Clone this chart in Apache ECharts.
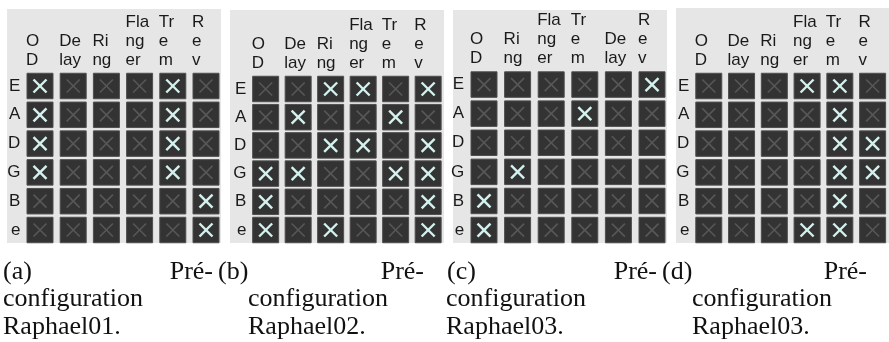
<!DOCTYPE html>
<html><head><meta charset="utf-8">
<script src="https://cdn.jsdelivr.net/npm/echarts@6/dist/echarts.min.js"></script>
<style>html,body{margin:0;padding:0;background:#fff}#c{width:889px;height:342px}</style>
</head><body><div id="c"></div>
<script>
const rowLabels = ['E', 'A', 'D', 'G', 'B', 'e'];
const headersStd = ['O\nD', 'De\nlay', 'Ri\nng', 'Fla\nng\ner', 'Tr\ne\nm', 'R\ne\nv'];
const headersAlt = ['O\nD', 'Ri\nng', 'Fla\nng\ner', 'Tr\ne\nm', 'De\nlay', 'R\ne\nv'];

// 1 = effect enabled (light X), 0 = disabled (grey X); rows E,A,D,G,B,e
const raphael01 = [
  [1,0,0,0,1,0],
  [1,0,0,0,1,0],
  [1,0,0,0,1,0],
  [1,0,0,0,1,0],
  [0,0,0,0,0,1],
  [0,0,0,0,0,1]
];
const raphael02 = [
  [0,0,1,1,0,1],
  [0,1,0,0,1,0],
  [0,0,1,1,0,1],
  [1,1,0,0,1,1],
  [1,0,0,0,0,1],
  [1,0,1,0,0,1]
];
const raphael03c = [
  [0,0,0,0,0,1],
  [0,0,0,1,0,0],
  [0,0,0,0,0,0],
  [0,1,0,0,0,0],
  [1,0,0,0,0,0],
  [1,0,0,0,0,0]
];
const raphael03d = [
  [0,0,0,1,1,0],
  [0,0,0,0,1,0],
  [0,0,0,0,1,1],
  [0,0,0,0,1,1],
  [0,0,0,0,1,0],
  [0,0,0,1,1,0]
];
const captionLabels = ['(a)', '(b)', '(c)', '(d)'];
const captionWord = 'Pré-';
const captionLine2 = 'configuration';
const captionNames = ['Raphael01.', 'Raphael02.', 'Raphael03.', 'Raphael03.'];

const headersList = [headersStd, headersStd, headersAlt, headersStd];
const matrices = [raphael01, raphael02, raphael03c, raphael03d];

// layout
const layout = [
  {bg: [7, 9, 214, 234],   grid: {left: 23.4,  top: 71.6, width: 199.2, height: 172.8}, cap: {lx: 3,   rx: 213, tx: 3}},
  {bg: [230, 10, 214, 233], grid: {left: 249.4, top: 74.9, width: 195,   height: 169.2}, cap: {lx: 218, rx: 424, tx: 248}},
  {bg: [453, 10, 214, 233], grid: {left: 467.2, top: 70,   width: 201.6, height: 174.6}, cap: {lx: 447, rx: 657, tx: 446}},
  {bg: [676, 8, 215, 235],  grid: {left: 692.4, top: 71.6, width: 199.2, height: 172.8}, cap: {lx: 662, rx: 867, tx: 692}}
];

const sans = '"Liberation Sans", Arial, sans-serif';
const serif = '"Liberation Serif", "Times New Roman", serif';

const grids = [], xAxes = [], yAxes = [], series = [], graphics = [];
layout.forEach((L, i) => {
  grids.push(Object.assign({containLabel: false}, L.grid));
  xAxes.push({
    type: 'category', gridIndex: i, position: 'top', data: headersList[i],
    axisLine: {show: false}, axisTick: {show: false}, splitLine: {show: false},
    axisLabel: {
      interval: 0, margin: 2, align: 'center', verticalAlign: 'bottom', width: 28,
      formatter: v => v.split('\n').map(s => '{l|' + s + '}').join('\n'),
      rich: {l: {align: 'left', fontSize: 17, lineHeight: 19, fontFamily: sans, color: '#1a1a1a'}}
    }
  });
  yAxes.push({
    type: 'category', gridIndex: i, inverse: true, data: rowLabels,
    axisLine: {show: false}, axisTick: {show: false}, splitLine: {show: false},
    axisLabel: {margin: 3, fontSize: 17, fontFamily: sans, color: '#1a1a1a'}
  });
  const data = [];
  matrices[i].forEach((row, r) => row.forEach((v, c) => data.push([c, r, v])));
  series.push({
    type: 'custom', coordinateSystem: 'cartesian2d', xAxisIndex: i, yAxisIndex: i,
    data: data, silent: true, z: 5,
    renderItem: (params, api) => {
      const p = api.coord([api.value(0), api.value(1)]);
      const w = 26, h = 25.5, a = 6.5;
      const on = api.value(2) === 1;
      const ls = {stroke: on ? '#d4f1ee' : '#575757', lineWidth: on ? 2.4 : 1.7};
      return {type: 'group', children: [
        {type: 'rect', shape: {x: p[0] - w / 2, y: p[1] - h / 2, width: w, height: h},
         style: {fill: '#333333', stroke: '#4e4e4e', lineWidth: 1}},
        {type: 'line', shape: {x1: p[0] - a, y1: p[1] - a, x2: p[0] + a, y2: p[1] + a}, style: ls},
        {type: 'line', shape: {x1: p[0] - a, y1: p[1] + a, x2: p[0] + a, y2: p[1] - a}, style: ls}
      ]};
    }
  });
  graphics.push({type: 'rect', z: -10, silent: true,
    shape: {x: L.bg[0], y: L.bg[1], width: L.bg[2], height: L.bg[3]}, style: {fill: '#e6e6e6'}});
  const ts = {font: '26px ' + serif, fill: '#111', verticalAlign: 'middle'};
  graphics.push({type: 'text', style: Object.assign({}, ts, {text: captionLabels[i], x: L.cap.lx, y: 272, align: 'left'})});
  graphics.push({type: 'text', style: Object.assign({}, ts, {text: captionWord, x: L.cap.rx, y: 272, align: 'right'})});
  graphics.push({type: 'text', style: Object.assign({}, ts, {text: captionLine2, x: L.cap.tx, y: 299.5, align: 'left'})});
  graphics.push({type: 'text', style: Object.assign({}, ts, {text: captionNames[i], x: L.cap.tx, y: 327, align: 'left'})});
});

const chart = echarts.init(document.getElementById('c'), null, {renderer: 'canvas'});
chart.setOption({
  animation: false,
  backgroundColor: '#ffffff',
  grid: grids, xAxis: xAxes, yAxis: yAxes, series: series,
  graphic: {elements: graphics}
});
</script></body></html>
